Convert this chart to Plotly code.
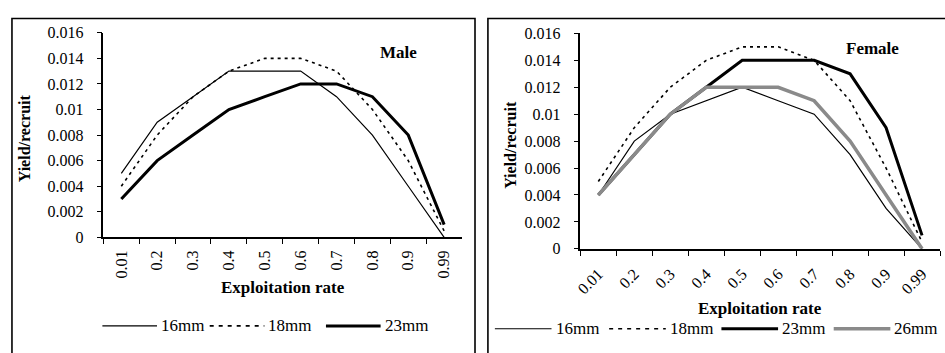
import plotly.graph_objects as go

# ---------------- data ----------------
rates = ["0.01", "0.2", "0.3", "0.4", "0.5", "0.6", "0.7", "0.8", "0.9", "0.99"]
y_tick_vals = [0, 0.002, 0.004, 0.006, 0.008, 0.01, 0.012, 0.014, 0.016]
y_tick_text = ["0", "0.002", "0.004", "0.006", "0.008", "0.01", "0.012", "0.014", "0.016"]

male_names = ["16mm", "18mm", "23mm"]
male_16 = [0.005, 0.009, 0.011, 0.013, 0.013, 0.013, 0.011, 0.008, 0.004, 0.0]
male_18 = [0.004, 0.008, 0.011, 0.013, 0.014, 0.014, 0.013, 0.010, 0.006, 0.0005]
male_23 = [0.003, 0.006, 0.008, 0.010, 0.011, 0.012, 0.012, 0.011, 0.008, 0.001]

female_names = ["16mm", "18mm", "23mm", "26mm"]
female_16 = [0.004, 0.008, 0.010, 0.011, 0.012, 0.011, 0.010, 0.007, 0.003, 0.0]
female_18 = [0.005, 0.009, 0.012, 0.014, 0.015, 0.015, 0.014, 0.011, 0.006, 0.0005]
female_23 = [0.004, 0.007, 0.010, 0.012, 0.014, 0.014, 0.014, 0.013, 0.009, 0.001]
female_26 = [0.004, 0.007, 0.010, 0.012, 0.012, 0.012, 0.011, 0.008, 0.004, 0.0]

# ---------------- styling ----------------
W, H = 945, 353
FONT = "Times New Roman, Liberation Serif, DejaVu Serif, serif"
styles = {
    "16mm": dict(color="black", width=1.2),
    "18mm": dict(color="black", width=1.6, dash="3px,4px"),
    "23mm": dict(color="black", width=3),
    "26mm": dict(color="#8a8a8a", width=3.5),
}


def px_x(p):
    return p / W


def px_y(p):
    return (H - p) / H


fig = go.Figure()

panels = [
    dict(xa="x", ya="y", names=male_names, series=[male_16, male_18, male_23]),
    dict(xa="x2", ya="y2", names=female_names, series=[female_16, female_18, female_23, female_26]),
]
for p in panels:
    for name, vals in zip(p["names"], p["series"]):
        fig.add_trace(go.Scatter(
            x=rates, y=vals, mode="lines", name=name,
            line=styles[name], xaxis=p["xa"], yaxis=p["ya"], showlegend=False,
        ))

tickfont = dict(family=FONT, size=16, color="black")
xcommon = dict(type="category", range=[-0.5, 9.5], tickson="boundaries", ticks="outside",
               ticklen=5, tickcolor="black", tickwidth=1.2, showline=True, linecolor="black",
               linewidth=1.5, showgrid=False, zeroline=False, tickfont=tickfont,
               categoryorder="array", categoryarray=rates)
ycommon = dict(range=[0, 0.016], tickvals=y_tick_vals, ticktext=y_tick_text, ticks="outside",
               ticklen=5, tickcolor="black", tickwidth=1.2, showline=True, linecolor="black",
               linewidth=1.5, showgrid=False, zeroline=False, tickfont=tickfont,
               ticklabelstandoff=10)

fig.update_layout(
    width=W, height=H, autosize=False,
    margin=dict(l=0, r=0, t=0, b=0),
    paper_bgcolor="white", plot_bgcolor="white",
    font=dict(family=FONT, size=16, color="black"),
    xaxis=dict(xcommon, domain=[px_x(98), px_x(459)], anchor="y", tickangle=-90,
               ticklabelstandoff=5),
    yaxis=dict(ycommon, domain=[px_y(241), px_y(26)], anchor="x"),
    xaxis2=dict(xcommon, domain=[px_x(578), px_x(940)], anchor="y2", tickangle=-45,
                ticklabelstandoff=8),
    yaxis2=dict(ycommon, domain=[px_y(253), px_y(26.7)], anchor="x2"),
)

shapes = []
annotations = []

# frames around each chart
shapes.append(dict(type="path", xref="paper", yref="paper",
                   path=f"M {px_x(6)} {px_y(370)} L {px_x(6)} {px_y(11)} L {px_x(472)} {px_y(11)} L {px_x(472)} {px_y(370)}",
                   line=dict(color="black", width=1.6)))
shapes.append(dict(type="path", xref="paper", yref="paper",
                   path=f"M {px_x(485)} {px_y(370)} L {px_x(485)} {px_y(11)} L {px_x(960)} {px_y(11)}",
                   line=dict(color="black", width=1.6)))


def ann(text, x, y, angle=0, xanchor="center", size=16):
    annotations.append(dict(text=text, x=px_x(x), y=px_y(y), xref="paper", yref="paper",
                            showarrow=False, xanchor=xanchor, yanchor="middle", textangle=angle,
                            font=dict(family=FONT, size=size, color="black")))


ann("<b>Yield/recruit</b>", 19, 137, angle=-90)
ann("<b>Yield/recruit</b>", 507, 144, angle=-90)
ann("<b>Exploitation rate</b>", 278.5, 294, size=17)
ann("<b>Exploitation rate</b>", 759, 316, size=17)
ann("<b>Male</b>", 395, 47, size=17)
ann("<b>Female</b>", 872, 43, size=17)

# legends (keys use the same line styles as the traces)
legend_specs = [
    (male_names, [97, 205, 322], 334, 55),
    (female_names, [492, 607, 720, 833], 337, 57),
]
for names, starts, ly, length in legend_specs:
    for name, x0 in zip(names, starts):
        st = dict(styles[name])
        if "dash" in st:
            st["dash"] = "4px,5px"
        shapes.append(dict(type="line", xref="paper", yref="paper",
                           x0=px_x(x0), x1=px_x(x0 + length), y0=px_y(ly), y1=px_y(ly),
                           line=st))
        ann(name, x0 + length + 2, ly, xanchor="left", size=17)

fig.update_layout(shapes=shapes, annotations=annotations)
fig.write_html("out.html")
